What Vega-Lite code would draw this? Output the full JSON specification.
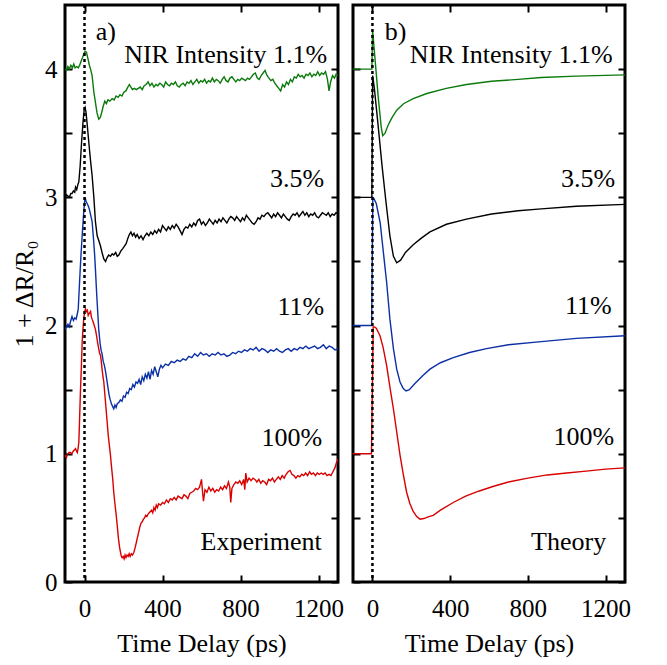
{
"$schema":"https://vega.github.io/schema/vega-lite/v6.json",
"padding":{"left":10,"top":2,"right":0,"bottom":0},
"background":"white",
"config":{"view":{"stroke":"black","strokeWidth":3},"font":"Liberation Serif, Times New Roman, serif","concat":{"spacing":5},
"text":{"font":"Liberation Serif, Times New Roman, serif"},
"axis":{"domain":false,"grid":false,"tickColor":"black","tickWidth":2,"tickSize":-7,"labelFont":"Liberation Serif, Times New Roman, serif","labelFontSize":25,"labelColor":"black","labelOverlap":false,"labelFlush":false,"titleFont":"Liberation Serif, Times New Roman, serif","titleFontSize":26,"titleFontWeight":"normal","titleColor":"black"}},
"datasets":{
"labels":[
{"p":"a","t":1244,"y":4.05,"txt":"NIR Intensity 1.1%"},{"p":"a","t":1229,"y":3.08,"txt":"3.5%"},{"p":"a","t":1229,"y":2.08,"txt":"11%"},{"p":"a","t":1219,"y":1.06,"txt":"100%"},{"p":"a","t":1217,"y":0.25,"txt":"Experiment"},
{"p":"b","t":1237,"y":4.05,"txt":"NIR Intensity 1.1%"},{"p":"b","t":1249,"y":3.08,"txt":"3.5%"},{"p":"b","t":1232,"y":2.09,"txt":"11%"},{"p":"b","t":1244,"y":1.07,"txt":"100%"},{"p":"b","t":1203,"y":0.25,"txt":"Theory"}],
"letters":[{"p":"a","t":58,"y":4.23,"txt":"a)"},{"p":"b","t":63,"y":4.23,"txt":"b)"}],
"zero":[{"t":0}],
"curves":[
{"p":"a","s":"g","t":-100,"y":4.00},{"p":"a","s":"g","t":-92,"y":3.99},{"p":"a","s":"g","t":-85,"y":4.02},{"p":"a","s":"g","t":-78,"y":4.00},{"p":"a","s":"g","t":-70,"y":4.03},{"p":"a","s":"g","t":-62,"y":4.01},{"p":"a","s":"g","t":-55,"y":4.04},{"p":"a","s":"g","t":-48,"y":4.01},{"p":"a","s":"g","t":-40,"y":4.02},{"p":"a","s":"g","t":-32,"y":4.01},{"p":"a","s":"g","t":-25,"y":4.03},{"p":"a","s":"g","t":-18,"y":4.06},{"p":"a","s":"g","t":-10,"y":4.09},{"p":"a","s":"g","t":-3,"y":4.12},{"p":"a","s":"g","t":3,"y":4.14},{"p":"a","s":"g","t":10,"y":4.13},{"p":"a","s":"g","t":18,"y":4.08},{"p":"a","s":"g","t":25,"y":4.03},{"p":"a","s":"g","t":31,"y":4.00},{"p":"a","s":"g","t":39,"y":3.95},{"p":"a","s":"g","t":48,"y":3.82},{"p":"a","s":"g","t":56,"y":3.74},{"p":"a","s":"g","t":64,"y":3.66},{"p":"a","s":"g","t":73,"y":3.61},{"p":"a","s":"g","t":80,"y":3.62},{"p":"a","s":"g","t":88,"y":3.66},{"p":"a","s":"g","t":96,"y":3.71},{"p":"a","s":"g","t":104,"y":3.75},{"p":"a","s":"g","t":112,"y":3.73},{"p":"a","s":"g","t":120,"y":3.76},{"p":"a","s":"g","t":130,"y":3.75},{"p":"a","s":"g","t":142,"y":3.77},{"p":"a","s":"g","t":152,"y":3.76},{"p":"a","s":"g","t":162,"y":3.79},{"p":"a","s":"g","t":172,"y":3.78},{"p":"a","s":"g","t":182,"y":3.80},{"p":"a","s":"g","t":192,"y":3.79},{"p":"a","s":"g","t":202,"y":3.82},{"p":"a","s":"g","t":212,"y":3.83},{"p":"a","s":"g","t":222,"y":3.86},{"p":"a","s":"g","t":230,"y":3.88},{"p":"a","s":"g","t":238,"y":3.86},{"p":"a","s":"g","t":246,"y":3.84},{"p":"a","s":"g","t":256,"y":3.85},{"p":"a","s":"g","t":266,"y":3.84},{"p":"a","s":"g","t":276,"y":3.85},{"p":"a","s":"g","t":286,"y":3.86},{"p":"a","s":"g","t":296,"y":3.84},{"p":"a","s":"g","t":306,"y":3.87},{"p":"a","s":"g","t":316,"y":3.88},{"p":"a","s":"g","t":326,"y":3.90},{"p":"a","s":"g","t":336,"y":3.87},{"p":"a","s":"g","t":346,"y":3.89},{"p":"a","s":"g","t":356,"y":3.86},{"p":"a","s":"g","t":366,"y":3.88},{"p":"a","s":"g","t":376,"y":3.87},{"p":"a","s":"g","t":386,"y":3.89},{"p":"a","s":"g","t":396,"y":3.88},{"p":"a","s":"g","t":406,"y":3.86},{"p":"a","s":"g","t":416,"y":3.90},{"p":"a","s":"g","t":426,"y":3.88},{"p":"a","s":"g","t":436,"y":3.87},{"p":"a","s":"g","t":446,"y":3.89},{"p":"a","s":"g","t":456,"y":3.88},{"p":"a","s":"g","t":466,"y":3.90},{"p":"a","s":"g","t":476,"y":3.87},{"p":"a","s":"g","t":486,"y":3.86},{"p":"a","s":"g","t":496,"y":3.88},{"p":"a","s":"g","t":506,"y":3.89},{"p":"a","s":"g","t":516,"y":3.87},{"p":"a","s":"g","t":526,"y":3.90},{"p":"a","s":"g","t":536,"y":3.89},{"p":"a","s":"g","t":546,"y":3.91},{"p":"a","s":"g","t":556,"y":3.88},{"p":"a","s":"g","t":566,"y":3.90},{"p":"a","s":"g","t":576,"y":3.92},{"p":"a","s":"g","t":586,"y":3.89},{"p":"a","s":"g","t":596,"y":3.91},{"p":"a","s":"g","t":606,"y":3.90},{"p":"a","s":"g","t":616,"y":3.92},{"p":"a","s":"g","t":626,"y":3.89},{"p":"a","s":"g","t":636,"y":3.91},{"p":"a","s":"g","t":646,"y":3.90},{"p":"a","s":"g","t":656,"y":3.93},{"p":"a","s":"g","t":666,"y":3.90},{"p":"a","s":"g","t":676,"y":3.92},{"p":"a","s":"g","t":686,"y":3.91},{"p":"a","s":"g","t":696,"y":3.89},{"p":"a","s":"g","t":706,"y":3.92},{"p":"a","s":"g","t":716,"y":3.94},{"p":"a","s":"g","t":726,"y":3.91},{"p":"a","s":"g","t":736,"y":3.90},{"p":"a","s":"g","t":746,"y":3.93},{"p":"a","s":"g","t":756,"y":3.94},{"p":"a","s":"g","t":766,"y":3.92},{"p":"a","s":"g","t":776,"y":3.90},{"p":"a","s":"g","t":786,"y":3.92},{"p":"a","s":"g","t":796,"y":3.91},{"p":"a","s":"g","t":806,"y":3.93},{"p":"a","s":"g","t":816,"y":3.92},{"p":"a","s":"g","t":826,"y":3.91},{"p":"a","s":"g","t":836,"y":3.93},{"p":"a","s":"g","t":846,"y":3.92},{"p":"a","s":"g","t":856,"y":3.94},{"p":"a","s":"g","t":866,"y":3.96},{"p":"a","s":"g","t":876,"y":3.97},{"p":"a","s":"g","t":886,"y":3.93},{"p":"a","s":"g","t":896,"y":3.92},{"p":"a","s":"g","t":906,"y":3.95},{"p":"a","s":"g","t":916,"y":3.97},{"p":"a","s":"g","t":926,"y":3.99},{"p":"a","s":"g","t":936,"y":3.95},{"p":"a","s":"g","t":946,"y":3.93},{"p":"a","s":"g","t":956,"y":3.91},{"p":"a","s":"g","t":966,"y":3.92},{"p":"a","s":"g","t":976,"y":3.89},{"p":"a","s":"g","t":986,"y":3.87},{"p":"a","s":"g","t":996,"y":3.85},{"p":"a","s":"g","t":1006,"y":3.83},{"p":"a","s":"g","t":1016,"y":3.88},{"p":"a","s":"g","t":1026,"y":3.86},{"p":"a","s":"g","t":1036,"y":3.90},{"p":"a","s":"g","t":1046,"y":3.88},{"p":"a","s":"g","t":1056,"y":3.92},{"p":"a","s":"g","t":1066,"y":3.90},{"p":"a","s":"g","t":1076,"y":3.94},{"p":"a","s":"g","t":1086,"y":3.93},{"p":"a","s":"g","t":1096,"y":3.96},{"p":"a","s":"g","t":1106,"y":3.94},{"p":"a","s":"g","t":1116,"y":3.95},{"p":"a","s":"g","t":1126,"y":3.93},{"p":"a","s":"g","t":1136,"y":3.96},{"p":"a","s":"g","t":1146,"y":3.95},{"p":"a","s":"g","t":1156,"y":3.97},{"p":"a","s":"g","t":1166,"y":3.94},{"p":"a","s":"g","t":1176,"y":3.96},{"p":"a","s":"g","t":1186,"y":3.95},{"p":"a","s":"g","t":1196,"y":3.98},{"p":"a","s":"g","t":1206,"y":3.95},{"p":"a","s":"g","t":1216,"y":3.97},{"p":"a","s":"g","t":1226,"y":3.96},{"p":"a","s":"g","t":1236,"y":3.98},{"p":"a","s":"g","t":1246,"y":3.92},{"p":"a","s":"g","t":1254,"y":3.83},{"p":"a","s":"g","t":1262,"y":3.90},{"p":"a","s":"g","t":1272,"y":3.95},{"p":"a","s":"g","t":1282,"y":3.93},{"p":"a","s":"g","t":1290,"y":3.96},{"p":"a","s":"g","t":1300,"y":3.95},
{"p":"a","s":"k","t":-100,"y":3.00},{"p":"a","s":"k","t":-92,"y":3.02},{"p":"a","s":"k","t":-85,"y":3.01},{"p":"a","s":"k","t":-78,"y":3.00},{"p":"a","s":"k","t":-70,"y":3.03},{"p":"a","s":"k","t":-64,"y":3.03},{"p":"a","s":"k","t":-57,"y":3.05},{"p":"a","s":"k","t":-50,"y":3.04},{"p":"a","s":"k","t":-46,"y":3.08},{"p":"a","s":"k","t":-40,"y":3.06},{"p":"a","s":"k","t":-34,"y":3.10},{"p":"a","s":"k","t":-29,"y":3.12},{"p":"a","s":"k","t":-22,"y":3.25},{"p":"a","s":"k","t":-15,"y":3.43},{"p":"a","s":"k","t":-8,"y":3.58},{"p":"a","s":"k","t":-2,"y":3.68},{"p":"a","s":"k","t":3,"y":3.70},{"p":"a","s":"k","t":8,"y":3.66},{"p":"a","s":"k","t":15,"y":3.55},{"p":"a","s":"k","t":22,"y":3.43},{"p":"a","s":"k","t":30,"y":3.30},{"p":"a","s":"k","t":39,"y":3.17},{"p":"a","s":"k","t":48,"y":3.00},{"p":"a","s":"k","t":56,"y":2.81},{"p":"a","s":"k","t":65,"y":2.70},{"p":"a","s":"k","t":74,"y":2.66},{"p":"a","s":"k","t":82,"y":2.62},{"p":"a","s":"k","t":90,"y":2.57},{"p":"a","s":"k","t":99,"y":2.52},{"p":"a","s":"k","t":108,"y":2.50},{"p":"a","s":"k","t":116,"y":2.53},{"p":"a","s":"k","t":124,"y":2.55},{"p":"a","s":"k","t":133,"y":2.54},{"p":"a","s":"k","t":142,"y":2.56},{"p":"a","s":"k","t":150,"y":2.55},{"p":"a","s":"k","t":160,"y":2.57},{"p":"a","s":"k","t":168,"y":2.54},{"p":"a","s":"k","t":176,"y":2.55},{"p":"a","s":"k","t":186,"y":2.58},{"p":"a","s":"k","t":196,"y":2.60},{"p":"a","s":"k","t":205,"y":2.62},{"p":"a","s":"k","t":214,"y":2.64},{"p":"a","s":"k","t":222,"y":2.68},{"p":"a","s":"k","t":230,"y":2.71},{"p":"a","s":"k","t":238,"y":2.73},{"p":"a","s":"k","t":246,"y":2.70},{"p":"a","s":"k","t":254,"y":2.72},{"p":"a","s":"k","t":262,"y":2.69},{"p":"a","s":"k","t":270,"y":2.71},{"p":"a","s":"k","t":280,"y":2.68},{"p":"a","s":"k","t":290,"y":2.70},{"p":"a","s":"k","t":300,"y":2.67},{"p":"a","s":"k","t":310,"y":2.70},{"p":"a","s":"k","t":320,"y":2.72},{"p":"a","s":"k","t":330,"y":2.70},{"p":"a","s":"k","t":340,"y":2.73},{"p":"a","s":"k","t":350,"y":2.71},{"p":"a","s":"k","t":360,"y":2.74},{"p":"a","s":"k","t":370,"y":2.72},{"p":"a","s":"k","t":380,"y":2.75},{"p":"a","s":"k","t":390,"y":2.73},{"p":"a","s":"k","t":400,"y":2.78},{"p":"a","s":"k","t":410,"y":2.76},{"p":"a","s":"k","t":420,"y":2.74},{"p":"a","s":"k","t":430,"y":2.77},{"p":"a","s":"k","t":440,"y":2.75},{"p":"a","s":"k","t":450,"y":2.78},{"p":"a","s":"k","t":460,"y":2.76},{"p":"a","s":"k","t":470,"y":2.79},{"p":"a","s":"k","t":480,"y":2.77},{"p":"a","s":"k","t":490,"y":2.74},{"p":"a","s":"k","t":500,"y":2.71},{"p":"a","s":"k","t":510,"y":2.75},{"p":"a","s":"k","t":520,"y":2.77},{"p":"a","s":"k","t":530,"y":2.76},{"p":"a","s":"k","t":540,"y":2.79},{"p":"a","s":"k","t":550,"y":2.77},{"p":"a","s":"k","t":560,"y":2.80},{"p":"a","s":"k","t":570,"y":2.78},{"p":"a","s":"k","t":580,"y":2.82},{"p":"a","s":"k","t":590,"y":2.83},{"p":"a","s":"k","t":600,"y":2.79},{"p":"a","s":"k","t":610,"y":2.81},{"p":"a","s":"k","t":620,"y":2.78},{"p":"a","s":"k","t":630,"y":2.80},{"p":"a","s":"k","t":640,"y":2.83},{"p":"a","s":"k","t":650,"y":2.81},{"p":"a","s":"k","t":660,"y":2.79},{"p":"a","s":"k","t":670,"y":2.82},{"p":"a","s":"k","t":680,"y":2.80},{"p":"a","s":"k","t":690,"y":2.83},{"p":"a","s":"k","t":700,"y":2.81},{"p":"a","s":"k","t":710,"y":2.84},{"p":"a","s":"k","t":720,"y":2.82},{"p":"a","s":"k","t":730,"y":2.80},{"p":"a","s":"k","t":740,"y":2.83},{"p":"a","s":"k","t":750,"y":2.85},{"p":"a","s":"k","t":760,"y":2.84},{"p":"a","s":"k","t":770,"y":2.82},{"p":"a","s":"k","t":780,"y":2.85},{"p":"a","s":"k","t":790,"y":2.83},{"p":"a","s":"k","t":800,"y":2.81},{"p":"a","s":"k","t":810,"y":2.84},{"p":"a","s":"k","t":820,"y":2.82},{"p":"a","s":"k","t":830,"y":2.86},{"p":"a","s":"k","t":840,"y":2.84},{"p":"a","s":"k","t":850,"y":2.82},{"p":"a","s":"k","t":860,"y":2.80},{"p":"a","s":"k","t":870,"y":2.79},{"p":"a","s":"k","t":880,"y":2.81},{"p":"a","s":"k","t":890,"y":2.84},{"p":"a","s":"k","t":900,"y":2.83},{"p":"a","s":"k","t":910,"y":2.86},{"p":"a","s":"k","t":920,"y":2.85},{"p":"a","s":"k","t":930,"y":2.87},{"p":"a","s":"k","t":940,"y":2.88},{"p":"a","s":"k","t":950,"y":2.86},{"p":"a","s":"k","t":960,"y":2.84},{"p":"a","s":"k","t":970,"y":2.87},{"p":"a","s":"k","t":980,"y":2.85},{"p":"a","s":"k","t":990,"y":2.88},{"p":"a","s":"k","t":1000,"y":2.86},{"p":"a","s":"k","t":1010,"y":2.84},{"p":"a","s":"k","t":1020,"y":2.87},{"p":"a","s":"k","t":1030,"y":2.85},{"p":"a","s":"k","t":1040,"y":2.83},{"p":"a","s":"k","t":1050,"y":2.82},{"p":"a","s":"k","t":1060,"y":2.85},{"p":"a","s":"k","t":1070,"y":2.87},{"p":"a","s":"k","t":1080,"y":2.86},{"p":"a","s":"k","t":1090,"y":2.88},{"p":"a","s":"k","t":1100,"y":2.85},{"p":"a","s":"k","t":1110,"y":2.87},{"p":"a","s":"k","t":1120,"y":2.89},{"p":"a","s":"k","t":1130,"y":2.86},{"p":"a","s":"k","t":1140,"y":2.88},{"p":"a","s":"k","t":1150,"y":2.85},{"p":"a","s":"k","t":1160,"y":2.87},{"p":"a","s":"k","t":1170,"y":2.86},{"p":"a","s":"k","t":1180,"y":2.88},{"p":"a","s":"k","t":1190,"y":2.85},{"p":"a","s":"k","t":1200,"y":2.84},{"p":"a","s":"k","t":1210,"y":2.86},{"p":"a","s":"k","t":1220,"y":2.88},{"p":"a","s":"k","t":1230,"y":2.87},{"p":"a","s":"k","t":1240,"y":2.86},{"p":"a","s":"k","t":1250,"y":2.88},{"p":"a","s":"k","t":1260,"y":2.85},{"p":"a","s":"k","t":1270,"y":2.87},{"p":"a","s":"k","t":1280,"y":2.86},{"p":"a","s":"k","t":1290,"y":2.88},{"p":"a","s":"k","t":1300,"y":2.87},
{"p":"a","s":"b","t":-100,"y":1.97},{"p":"a","s":"b","t":-92,"y":1.99},{"p":"a","s":"b","t":-85,"y":2.01},{"p":"a","s":"b","t":-78,"y":1.99},{"p":"a","s":"b","t":-72,"y":2.03},{"p":"a","s":"b","t":-64,"y":2.07},{"p":"a","s":"b","t":-57,"y":2.04},{"p":"a","s":"b","t":-50,"y":2.06},{"p":"a","s":"b","t":-43,"y":2.05},{"p":"a","s":"b","t":-37,"y":2.09},{"p":"a","s":"b","t":-32,"y":2.13},{"p":"a","s":"b","t":-25,"y":2.35},{"p":"a","s":"b","t":-18,"y":2.55},{"p":"a","s":"b","t":-12,"y":2.70},{"p":"a","s":"b","t":-6,"y":2.84},{"p":"a","s":"b","t":-1,"y":2.94},{"p":"a","s":"b","t":3,"y":3.00},{"p":"a","s":"b","t":8,"y":2.97},{"p":"a","s":"b","t":14,"y":2.95},{"p":"a","s":"b","t":20,"y":2.93},{"p":"a","s":"b","t":26,"y":2.90},{"p":"a","s":"b","t":32,"y":2.86},{"p":"a","s":"b","t":39,"y":2.81},{"p":"a","s":"b","t":46,"y":2.68},{"p":"a","s":"b","t":52,"y":2.55},{"p":"a","s":"b","t":56,"y":2.44},{"p":"a","s":"b","t":62,"y":2.26},{"p":"a","s":"b","t":68,"y":2.10},{"p":"a","s":"b","t":73,"y":1.97},{"p":"a","s":"b","t":80,"y":1.86},{"p":"a","s":"b","t":86,"y":1.80},{"p":"a","s":"b","t":90,"y":1.78},{"p":"a","s":"b","t":96,"y":1.72},{"p":"a","s":"b","t":102,"y":1.69},{"p":"a","s":"b","t":108,"y":1.64},{"p":"a","s":"b","t":114,"y":1.58},{"p":"a","s":"b","t":120,"y":1.52},{"p":"a","s":"b","t":126,"y":1.46},{"p":"a","s":"b","t":132,"y":1.42},{"p":"a","s":"b","t":138,"y":1.39},{"p":"a","s":"b","t":144,"y":1.37},{"p":"a","s":"b","t":150,"y":1.35},{"p":"a","s":"b","t":156,"y":1.38},{"p":"a","s":"b","t":162,"y":1.36},{"p":"a","s":"b","t":168,"y":1.39},{"p":"a","s":"b","t":176,"y":1.40},{"p":"a","s":"b","t":184,"y":1.42},{"p":"a","s":"b","t":192,"y":1.41},{"p":"a","s":"b","t":200,"y":1.45},{"p":"a","s":"b","t":208,"y":1.44},{"p":"a","s":"b","t":216,"y":1.48},{"p":"a","s":"b","t":224,"y":1.47},{"p":"a","s":"b","t":232,"y":1.51},{"p":"a","s":"b","t":240,"y":1.50},{"p":"a","s":"b","t":248,"y":1.54},{"p":"a","s":"b","t":256,"y":1.52},{"p":"a","s":"b","t":264,"y":1.56},{"p":"a","s":"b","t":272,"y":1.55},{"p":"a","s":"b","t":280,"y":1.58},{"p":"a","s":"b","t":288,"y":1.54},{"p":"a","s":"b","t":296,"y":1.60},{"p":"a","s":"b","t":304,"y":1.57},{"p":"a","s":"b","t":312,"y":1.62},{"p":"a","s":"b","t":320,"y":1.59},{"p":"a","s":"b","t":328,"y":1.64},{"p":"a","s":"b","t":336,"y":1.58},{"p":"a","s":"b","t":344,"y":1.65},{"p":"a","s":"b","t":352,"y":1.62},{"p":"a","s":"b","t":360,"y":1.68},{"p":"a","s":"b","t":368,"y":1.64},{"p":"a","s":"b","t":376,"y":1.60},{"p":"a","s":"b","t":384,"y":1.66},{"p":"a","s":"b","t":392,"y":1.69},{"p":"a","s":"b","t":400,"y":1.67},{"p":"a","s":"b","t":415,"y":1.70},{"p":"a","s":"b","t":430,"y":1.69},{"p":"a","s":"b","t":445,"y":1.72},{"p":"a","s":"b","t":460,"y":1.71},{"p":"a","s":"b","t":475,"y":1.73},{"p":"a","s":"b","t":490,"y":1.72},{"p":"a","s":"b","t":505,"y":1.74},{"p":"a","s":"b","t":520,"y":1.73},{"p":"a","s":"b","t":535,"y":1.76},{"p":"a","s":"b","t":550,"y":1.75},{"p":"a","s":"b","t":565,"y":1.78},{"p":"a","s":"b","t":580,"y":1.76},{"p":"a","s":"b","t":595,"y":1.79},{"p":"a","s":"b","t":610,"y":1.77},{"p":"a","s":"b","t":625,"y":1.78},{"p":"a","s":"b","t":640,"y":1.76},{"p":"a","s":"b","t":655,"y":1.78},{"p":"a","s":"b","t":670,"y":1.77},{"p":"a","s":"b","t":685,"y":1.79},{"p":"a","s":"b","t":700,"y":1.77},{"p":"a","s":"b","t":715,"y":1.78},{"p":"a","s":"b","t":730,"y":1.76},{"p":"a","s":"b","t":745,"y":1.77},{"p":"a","s":"b","t":760,"y":1.79},{"p":"a","s":"b","t":775,"y":1.78},{"p":"a","s":"b","t":790,"y":1.80},{"p":"a","s":"b","t":805,"y":1.79},{"p":"a","s":"b","t":820,"y":1.81},{"p":"a","s":"b","t":835,"y":1.80},{"p":"a","s":"b","t":850,"y":1.82},{"p":"a","s":"b","t":865,"y":1.81},{"p":"a","s":"b","t":880,"y":1.83},{"p":"a","s":"b","t":895,"y":1.80},{"p":"a","s":"b","t":910,"y":1.82},{"p":"a","s":"b","t":925,"y":1.81},{"p":"a","s":"b","t":940,"y":1.79},{"p":"a","s":"b","t":955,"y":1.81},{"p":"a","s":"b","t":970,"y":1.80},{"p":"a","s":"b","t":985,"y":1.82},{"p":"a","s":"b","t":1000,"y":1.80},{"p":"a","s":"b","t":1015,"y":1.79},{"p":"a","s":"b","t":1030,"y":1.81},{"p":"a","s":"b","t":1045,"y":1.82},{"p":"a","s":"b","t":1060,"y":1.80},{"p":"a","s":"b","t":1075,"y":1.82},{"p":"a","s":"b","t":1090,"y":1.81},{"p":"a","s":"b","t":1105,"y":1.83},{"p":"a","s":"b","t":1120,"y":1.82},{"p":"a","s":"b","t":1135,"y":1.84},{"p":"a","s":"b","t":1150,"y":1.82},{"p":"a","s":"b","t":1165,"y":1.83},{"p":"a","s":"b","t":1180,"y":1.84},{"p":"a","s":"b","t":1195,"y":1.82},{"p":"a","s":"b","t":1210,"y":1.83},{"p":"a","s":"b","t":1225,"y":1.85},{"p":"a","s":"b","t":1240,"y":1.82},{"p":"a","s":"b","t":1255,"y":1.84},{"p":"a","s":"b","t":1270,"y":1.83},{"p":"a","s":"b","t":1285,"y":1.81},{"p":"a","s":"b","t":1300,"y":1.82},
{"p":"a","s":"r","t":-100,"y":0.99},{"p":"a","s":"r","t":-93,"y":0.97},{"p":"a","s":"r","t":-86,"y":1.00},{"p":"a","s":"r","t":-79,"y":1.01},{"p":"a","s":"r","t":-72,"y":1.01},{"p":"a","s":"r","t":-65,"y":1.00},{"p":"a","s":"r","t":-58,"y":1.02},{"p":"a","s":"r","t":-52,"y":1.03},{"p":"a","s":"r","t":-46,"y":1.04},{"p":"a","s":"r","t":-41,"y":1.02},{"p":"a","s":"r","t":-37,"y":1.01},{"p":"a","s":"r","t":-33,"y":1.04},{"p":"a","s":"r","t":-29,"y":1.09},{"p":"a","s":"r","t":-25,"y":1.28},{"p":"a","s":"r","t":-21,"y":1.48},{"p":"a","s":"r","t":-16,"y":1.68},{"p":"a","s":"r","t":-12,"y":1.87},{"p":"a","s":"r","t":-8,"y":1.97},{"p":"a","s":"r","t":-4,"y":2.05},{"p":"a","s":"r","t":0,"y":2.10},{"p":"a","s":"r","t":5,"y":2.13},{"p":"a","s":"r","t":10,"y":2.11},{"p":"a","s":"r","t":15,"y":2.12},{"p":"a","s":"r","t":19,"y":2.08},{"p":"a","s":"r","t":22,"y":2.09},{"p":"a","s":"r","t":27,"y":2.10},{"p":"a","s":"r","t":31,"y":2.11},{"p":"a","s":"r","t":35,"y":2.07},{"p":"a","s":"r","t":39,"y":2.05},{"p":"a","s":"r","t":44,"y":2.03},{"p":"a","s":"r","t":50,"y":2.00},{"p":"a","s":"r","t":56,"y":1.97},{"p":"a","s":"r","t":62,"y":1.92},{"p":"a","s":"r","t":68,"y":1.86},{"p":"a","s":"r","t":73,"y":1.82},{"p":"a","s":"r","t":78,"y":1.78},{"p":"a","s":"r","t":82,"y":1.77},{"p":"a","s":"r","t":86,"y":1.72},{"p":"a","s":"r","t":90,"y":1.66},{"p":"a","s":"r","t":95,"y":1.60},{"p":"a","s":"r","t":99,"y":1.56},{"p":"a","s":"r","t":104,"y":1.47},{"p":"a","s":"r","t":110,"y":1.36},{"p":"a","s":"r","t":116,"y":1.25},{"p":"a","s":"r","t":122,"y":1.14},{"p":"a","s":"r","t":128,"y":1.06},{"p":"a","s":"r","t":133,"y":0.99},{"p":"a","s":"r","t":139,"y":0.89},{"p":"a","s":"r","t":145,"y":0.80},{"p":"a","s":"r","t":150,"y":0.70},{"p":"a","s":"r","t":156,"y":0.61},{"p":"a","s":"r","t":162,"y":0.53},{"p":"a","s":"r","t":168,"y":0.44},{"p":"a","s":"r","t":174,"y":0.34},{"p":"a","s":"r","t":180,"y":0.27},{"p":"a","s":"r","t":185,"y":0.23},{"p":"a","s":"r","t":189,"y":0.20},{"p":"a","s":"r","t":193,"y":0.19},{"p":"a","s":"r","t":198,"y":0.20},{"p":"a","s":"r","t":203,"y":0.18},{"p":"a","s":"r","t":208,"y":0.21},{"p":"a","s":"r","t":213,"y":0.19},{"p":"a","s":"r","t":218,"y":0.21},{"p":"a","s":"r","t":224,"y":0.20},{"p":"a","s":"r","t":229,"y":0.22},{"p":"a","s":"r","t":234,"y":0.20},{"p":"a","s":"r","t":240,"y":0.22},{"p":"a","s":"r","t":246,"y":0.21},{"p":"a","s":"r","t":253,"y":0.23},{"p":"a","s":"r","t":260,"y":0.27},{"p":"a","s":"r","t":266,"y":0.31},{"p":"a","s":"r","t":272,"y":0.35},{"p":"a","s":"r","t":278,"y":0.39},{"p":"a","s":"r","t":284,"y":0.43},{"p":"a","s":"r","t":290,"y":0.46},{"p":"a","s":"r","t":296,"y":0.47},{"p":"a","s":"r","t":302,"y":0.49},{"p":"a","s":"r","t":308,"y":0.50},{"p":"a","s":"r","t":314,"y":0.52},{"p":"a","s":"r","t":320,"y":0.51},{"p":"a","s":"r","t":326,"y":0.53},{"p":"a","s":"r","t":332,"y":0.54},{"p":"a","s":"r","t":338,"y":0.55},{"p":"a","s":"r","t":344,"y":0.56},{"p":"a","s":"r","t":350,"y":0.54},{"p":"a","s":"r","t":356,"y":0.58},{"p":"a","s":"r","t":362,"y":0.56},{"p":"a","s":"r","t":368,"y":0.60},{"p":"a","s":"r","t":374,"y":0.58},{"p":"a","s":"r","t":380,"y":0.61},{"p":"a","s":"r","t":390,"y":0.60},{"p":"a","s":"r","t":400,"y":0.62},{"p":"a","s":"r","t":410,"y":0.61},{"p":"a","s":"r","t":420,"y":0.64},{"p":"a","s":"r","t":430,"y":0.62},{"p":"a","s":"r","t":440,"y":0.65},{"p":"a","s":"r","t":450,"y":0.64},{"p":"a","s":"r","t":460,"y":0.66},{"p":"a","s":"r","t":470,"y":0.64},{"p":"a","s":"r","t":480,"y":0.67},{"p":"a","s":"r","t":490,"y":0.66},{"p":"a","s":"r","t":500,"y":0.65},{"p":"a","s":"r","t":510,"y":0.68},{"p":"a","s":"r","t":520,"y":0.67},{"p":"a","s":"r","t":530,"y":0.65},{"p":"a","s":"r","t":540,"y":0.69},{"p":"a","s":"r","t":550,"y":0.70},{"p":"a","s":"r","t":560,"y":0.71},{"p":"a","s":"r","t":570,"y":0.73},{"p":"a","s":"r","t":580,"y":0.72},{"p":"a","s":"r","t":590,"y":0.74},{"p":"a","s":"r","t":600,"y":0.80},{"p":"a","s":"r","t":605,"y":0.71},{"p":"a","s":"r","t":610,"y":0.63},{"p":"a","s":"r","t":618,"y":0.72},{"p":"a","s":"r","t":628,"y":0.70},{"p":"a","s":"r","t":638,"y":0.74},{"p":"a","s":"r","t":648,"y":0.71},{"p":"a","s":"r","t":658,"y":0.73},{"p":"a","s":"r","t":668,"y":0.70},{"p":"a","s":"r","t":678,"y":0.72},{"p":"a","s":"r","t":688,"y":0.71},{"p":"a","s":"r","t":698,"y":0.74},{"p":"a","s":"r","t":708,"y":0.72},{"p":"a","s":"r","t":718,"y":0.75},{"p":"a","s":"r","t":728,"y":0.73},{"p":"a","s":"r","t":738,"y":0.78},{"p":"a","s":"r","t":745,"y":0.74},{"p":"a","s":"r","t":750,"y":0.62},{"p":"a","s":"r","t":756,"y":0.73},{"p":"a","s":"r","t":766,"y":0.76},{"p":"a","s":"r","t":776,"y":0.78},{"p":"a","s":"r","t":786,"y":0.77},{"p":"a","s":"r","t":796,"y":0.79},{"p":"a","s":"r","t":806,"y":0.76},{"p":"a","s":"r","t":816,"y":0.80},{"p":"a","s":"r","t":822,"y":0.72},{"p":"a","s":"r","t":827,"y":0.85},{"p":"a","s":"r","t":834,"y":0.78},{"p":"a","s":"r","t":844,"y":0.81},{"p":"a","s":"r","t":854,"y":0.79},{"p":"a","s":"r","t":864,"y":0.81},{"p":"a","s":"r","t":874,"y":0.80},{"p":"a","s":"r","t":884,"y":0.78},{"p":"a","s":"r","t":894,"y":0.80},{"p":"a","s":"r","t":904,"y":0.77},{"p":"a","s":"r","t":914,"y":0.79},{"p":"a","s":"r","t":924,"y":0.78},{"p":"a","s":"r","t":934,"y":0.76},{"p":"a","s":"r","t":944,"y":0.80},{"p":"a","s":"r","t":954,"y":0.79},{"p":"a","s":"r","t":964,"y":0.81},{"p":"a","s":"r","t":974,"y":0.78},{"p":"a","s":"r","t":984,"y":0.80},{"p":"a","s":"r","t":994,"y":0.82},{"p":"a","s":"r","t":1004,"y":0.80},{"p":"a","s":"r","t":1014,"y":0.83},{"p":"a","s":"r","t":1024,"y":0.81},{"p":"a","s":"r","t":1034,"y":0.84},{"p":"a","s":"r","t":1044,"y":0.86},{"p":"a","s":"r","t":1054,"y":0.87},{"p":"a","s":"r","t":1064,"y":0.84},{"p":"a","s":"r","t":1074,"y":0.83},{"p":"a","s":"r","t":1084,"y":0.81},{"p":"a","s":"r","t":1094,"y":0.83},{"p":"a","s":"r","t":1104,"y":0.82},{"p":"a","s":"r","t":1114,"y":0.84},{"p":"a","s":"r","t":1124,"y":0.83},{"p":"a","s":"r","t":1134,"y":0.85},{"p":"a","s":"r","t":1144,"y":0.83},{"p":"a","s":"r","t":1154,"y":0.86},{"p":"a","s":"r","t":1164,"y":0.84},{"p":"a","s":"r","t":1174,"y":0.85},{"p":"a","s":"r","t":1184,"y":0.83},{"p":"a","s":"r","t":1194,"y":0.85},{"p":"a","s":"r","t":1204,"y":0.84},{"p":"a","s":"r","t":1214,"y":0.85},{"p":"a","s":"r","t":1224,"y":0.84},{"p":"a","s":"r","t":1234,"y":0.85},{"p":"a","s":"r","t":1244,"y":0.83},{"p":"a","s":"r","t":1254,"y":0.84},{"p":"a","s":"r","t":1264,"y":0.83},{"p":"a","s":"r","t":1274,"y":0.86},{"p":"a","s":"r","t":1284,"y":0.89},{"p":"a","s":"r","t":1292,"y":0.93},{"p":"a","s":"r","t":1300,"y":0.96},
{"p":"b","s":"g","t":-100,"y":4.0},{"p":"b","s":"g","t":-3,"y":4.0},{"p":"b","s":"g","t":1,"y":4.30},{"p":"b","s":"g","t":15,"y":4.05},{"p":"b","s":"g","t":30,"y":3.78},{"p":"b","s":"g","t":45,"y":3.55},{"p":"b","s":"g","t":53,"y":3.48},{"p":"b","s":"g","t":65,"y":3.50},{"p":"b","s":"g","t":80,"y":3.56},{"p":"b","s":"g","t":100,"y":3.62},{"p":"b","s":"g","t":125,"y":3.68},{"p":"b","s":"g","t":160,"y":3.73},{"p":"b","s":"g","t":210,"y":3.77},{"p":"b","s":"g","t":280,"y":3.81},{"p":"b","s":"g","t":380,"y":3.85},{"p":"b","s":"g","t":484,"y":3.88},{"p":"b","s":"g","t":613,"y":3.905},{"p":"b","s":"g","t":750,"y":3.92},{"p":"b","s":"g","t":869,"y":3.935},{"p":"b","s":"g","t":1050,"y":3.945},{"p":"b","s":"g","t":1300,"y":3.955},
{"p":"b","s":"k","t":-100,"y":3.0},{"p":"b","s":"k","t":-3,"y":3.0},{"p":"b","s":"k","t":1,"y":3.95},{"p":"b","s":"k","t":10,"y":3.85},{"p":"b","s":"k","t":30,"y":3.55},{"p":"b","s":"k","t":50,"y":3.24},{"p":"b","s":"k","t":70,"y":2.96},{"p":"b","s":"k","t":90,"y":2.70},{"p":"b","s":"k","t":108,"y":2.54},{"p":"b","s":"k","t":125,"y":2.49},{"p":"b","s":"k","t":145,"y":2.51},{"p":"b","s":"k","t":170,"y":2.57},{"p":"b","s":"k","t":210,"y":2.63},{"p":"b","s":"k","t":250,"y":2.68},{"p":"b","s":"k","t":296,"y":2.73},{"p":"b","s":"k","t":381,"y":2.79},{"p":"b","s":"k","t":484,"y":2.83},{"p":"b","s":"k","t":613,"y":2.87},{"p":"b","s":"k","t":750,"y":2.895},{"p":"b","s":"k","t":869,"y":2.91},{"p":"b","s":"k","t":1050,"y":2.93},{"p":"b","s":"k","t":1300,"y":2.945},
{"p":"b","s":"b","t":-100,"y":2.0},{"p":"b","s":"b","t":-4,"y":2.0},{"p":"b","s":"b","t":2,"y":3.0},{"p":"b","s":"b","t":8,"y":2.99},{"p":"b","s":"b","t":20,"y":2.95},{"p":"b","s":"b","t":40,"y":2.80},{"p":"b","s":"b","t":60,"y":2.52},{"p":"b","s":"b","t":73,"y":2.34},{"p":"b","s":"b","t":90,"y":2.05},{"p":"b","s":"b","t":108,"y":1.82},{"p":"b","s":"b","t":125,"y":1.66},{"p":"b","s":"b","t":142,"y":1.56},{"p":"b","s":"b","t":158,"y":1.51},{"p":"b","s":"b","t":173,"y":1.49},{"p":"b","s":"b","t":190,"y":1.50},{"p":"b","s":"b","t":220,"y":1.55},{"p":"b","s":"b","t":260,"y":1.61},{"p":"b","s":"b","t":296,"y":1.66},{"p":"b","s":"b","t":350,"y":1.71},{"p":"b","s":"b","t":416,"y":1.75},{"p":"b","s":"b","t":500,"y":1.79},{"p":"b","s":"b","t":587,"y":1.82},{"p":"b","s":"b","t":700,"y":1.85},{"p":"b","s":"b","t":869,"y":1.875},{"p":"b","s":"b","t":1050,"y":1.90},{"p":"b","s":"b","t":1300,"y":1.92},
{"p":"b","s":"r","t":-100,"y":1.0},{"p":"b","s":"r","t":-5,"y":1.0},{"p":"b","s":"r","t":4,"y":1.99},{"p":"b","s":"r","t":10,"y":1.99},{"p":"b","s":"r","t":20,"y":1.98},{"p":"b","s":"r","t":39,"y":1.92},{"p":"b","s":"r","t":55,"y":1.83},{"p":"b","s":"r","t":73,"y":1.69},{"p":"b","s":"r","t":90,"y":1.52},{"p":"b","s":"r","t":108,"y":1.35},{"p":"b","s":"r","t":125,"y":1.17},{"p":"b","s":"r","t":142,"y":0.99},{"p":"b","s":"r","t":160,"y":0.83},{"p":"b","s":"r","t":176,"y":0.70},{"p":"b","s":"r","t":193,"y":0.61},{"p":"b","s":"r","t":210,"y":0.55},{"p":"b","s":"r","t":228,"y":0.51},{"p":"b","s":"r","t":245,"y":0.49},{"p":"b","s":"r","t":265,"y":0.495},{"p":"b","s":"r","t":290,"y":0.51},{"p":"b","s":"r","t":313,"y":0.52},{"p":"b","s":"r","t":350,"y":0.56},{"p":"b","s":"r","t":416,"y":0.62},{"p":"b","s":"r","t":480,"y":0.67},{"p":"b","s":"r","t":550,"y":0.71},{"p":"b","s":"r","t":620,"y":0.745},{"p":"b","s":"r","t":700,"y":0.78},{"p":"b","s":"r","t":800,"y":0.81},{"p":"b","s":"r","t":900,"y":0.835},{"p":"b","s":"r","t":1000,"y":0.85},{"p":"b","s":"r","t":1100,"y":0.865},{"p":"b","s":"r","t":1200,"y":0.88},{"p":"b","s":"r","t":1300,"y":0.89}
]},
"hconcat":[
{"width":273,"height":577,
"resolve":{"axis":{"x":"independent","y":"independent"}},
"layer":[
{"data":{"name":"curves"},"transform":[{"filter":"datum.p == 'a'"}],
"mark":{"type":"line","strokeWidth":1.4,"clip":true},
"encoding":{
"x":{"field":"t","type":"quantitative","scale":{"domain":[-100,1300],"nice":false,"zero":false},"axis":{"orient":"bottom","values":[0,400,800,1200],"format":"d","title":"Time Delay (ps)","labelPadding":21,"titlePadding":9}},
"y":{"field":"y","type":"quantitative","scale":{"domain":[0,4.5],"nice":false,"zero":false},"axis":{"orient":"left","values":[0,0.5,1,1.5,2,2.5,3,3.5,4],"labelExpr":"datum.value % 1 == 0 ? format(datum.value, 'd') : ''","title":"1 + ΔR/R₀","labelPadding":15,"titlePadding":7}},
"color":{"field":"s","type":"nominal","scale":{"domain":["g","k","b","r"],"range":["#0b7a0b","#000000","#0b30a5","#d80000"]},"legend":null},
"order":{"field":"t","type":"quantitative"}}},
{"data":{"name":"zero"},"mark":{"type":"rule","color":"black","strokeWidth":2.5,"strokeDash":[3,3]},
"encoding":{"x":{"field":"t","type":"quantitative","axis":null}}},
{"data":{"name":"labels"},"transform":[{"filter":"datum.p == 'a'"}],
"mark":{"type":"text","align":"right","baseline":"alphabetic","fontSize":26,"color":"black"},
"encoding":{"x":{"field":"t","type":"quantitative","axis":{"orient":"top","values":[0,400,800,1200],"labels":false,"title":null}},
"y":{"field":"y","type":"quantitative","axis":{"orient":"right","values":[0,0.5,1,1.5,2,2.5,3,3.5,4],"labels":false,"title":null}},
"text":{"field":"txt"}}},
{"data":{"name":"letters"},"transform":[{"filter":"datum.p == 'a'"}],
"mark":{"type":"text","align":"left","baseline":"alphabetic","fontSize":26,"color":"black"},
"encoding":{"x":{"field":"t","type":"quantitative","axis":null},"y":{"field":"y","type":"quantitative","axis":null},"text":{"field":"txt"}}}
]},
{"width":272,"height":577,
"resolve":{"axis":{"x":"independent","y":"independent"}},
"layer":[
{"data":{"name":"curves"},"transform":[{"filter":"datum.p == 'b'"}],
"mark":{"type":"line","strokeWidth":1.4,"clip":true},
"encoding":{
"x":{"field":"t","type":"quantitative","scale":{"domain":[-100,1300],"nice":false,"zero":false},"axis":{"orient":"bottom","values":[0,400,800,1200],"format":"d","title":"Time Delay (ps)","labelPadding":21,"titlePadding":9}},
"y":{"field":"y","type":"quantitative","scale":{"domain":[0,4.5],"nice":false,"zero":false},"axis":{"orient":"left","values":[0,0.5,1,1.5,2,2.5,3,3.5,4],"labels":false,"title":null}},
"color":{"field":"s","type":"nominal","scale":{"domain":["g","k","b","r"],"range":["#0b7a0b","#000000","#0b30a5","#d80000"]},"legend":null},
"order":{"field":"t","type":"quantitative"}}},
{"data":{"name":"zero"},"mark":{"type":"rule","color":"black","strokeWidth":2.5,"strokeDash":[3,3]},
"encoding":{"x":{"field":"t","type":"quantitative","axis":null}}},
{"data":{"name":"labels"},"transform":[{"filter":"datum.p == 'b'"}],
"mark":{"type":"text","align":"right","baseline":"alphabetic","fontSize":26,"color":"black"},
"encoding":{"x":{"field":"t","type":"quantitative","axis":{"orient":"top","values":[0,400,800,1200],"labels":false,"title":null}},
"y":{"field":"y","type":"quantitative","axis":{"orient":"right","values":[0,0.5,1,1.5,2,2.5,3,3.5,4],"labels":false,"title":null}},
"text":{"field":"txt"}}},
{"data":{"name":"letters"},"transform":[{"filter":"datum.p == 'b'"}],
"mark":{"type":"text","align":"left","baseline":"alphabetic","fontSize":26,"color":"black"},
"encoding":{"x":{"field":"t","type":"quantitative","axis":null},"y":{"field":"y","type":"quantitative","axis":null},"text":{"field":"txt"}}}
]}
]
}
